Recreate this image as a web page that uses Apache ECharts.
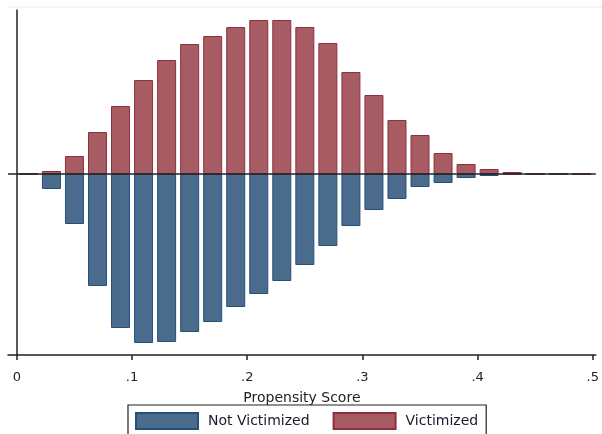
<!DOCTYPE html>
<html>
<head>
<meta charset="utf-8">
<script src="https://cdn.jsdelivr.net/npm/echarts@6/dist/echarts.min.js"></script>
<style>
  html, body { margin: 0; padding: 0; background: #fff; }
  #chart { width: 602px; height: 434px; }
</style>
</head>
<body>
<div id="chart"></div>
<script>
// bin centres of the propensity score histogram (width .02)
var binCenters = [0.01, 0.03, 0.05, 0.07, 0.09, 0.11, 0.13, 0.15, 0.17, 0.19,
	0.21, 0.23, 0.25, 0.27, 0.29, 0.31, 0.33, 0.35, 0.37, 0.39,
	0.41, 0.43, 0.45, 0.47, 0.49];
// heights, drawn above the zero line
var victimized = [0.5, 3, 18, 42, 68, 94, 114, 130, 138, 147,
	154, 154, 147, 131, 102, 79, 54, 39, 21, 10,
	5, 2, 0.5, 0.5, 0];
// heights, drawn below the zero line
var notVictimized = [0, 15, 50, 112, 154, 169, 168, 158, 148, 133,
	120, 107, 91, 72, 52, 36, 25, 13, 9, 4,
	2, 0, 0, 0, 0.5];
var tickValues = [0, 0.1, 0.2, 0.3, 0.4, 0.5];
var tickLabels = ["0", ".1", ".2", ".3", ".4", ".5"];

var blueFill = "#4a6b8c", blueLine = "#24507a";
var redFill = "#a75b63", redLine = "#902f3c";

var upData = [], downData = [];
for (var i = 0; i < binCenters.length; i++) {
	upData.push([binCenters[i], victimized[i]]);
	downData.push([binCenters[i], -notVictimized[i]]);
}

var chart = echarts.init(document.getElementById("chart"));
chart.setOption({
	animation: false,
	grid: { left: 8, right: 0, top: 10, bottom: 79 },
	legend: {
		data: ["Not Victimized", "Victimized"],
		left: 128,
		top: 405,
		padding: [7, 8, 30, 7],
		borderColor: "#222",
		borderWidth: 1.2,
		borderRadius: 0,
		itemWidth: 62,
		itemHeight: 16,
		itemGap: 23,
		icon: "rect",
		textStyle: { fontFamily: "DejaVu Sans", fontSize: 14, color: "#1a1a2a", padding: [0, 0, 0, 5] }
	},
	xAxis: {
		type: "value",
		min: -0.0077,
		max: 0.5026,
		name: "Propensity Score",
		nameLocation: "middle",
		nameGap: 36,
		nameTextStyle: { fontFamily: "DejaVu Sans", fontSize: 14, color: "#222" },
		splitLine: { show: false },
		axisLine: { onZero: false, lineStyle: { color: "#222", width: 1.5 } },
		axisTick: { customValues: tickValues, length: 5, lineStyle: { color: "#222", width: 1.5 } },
		axisLabel: {
			customValues: tickValues,
			margin: 16,
			fontFamily: "DejaVu Sans",
			fontSize: 13,
			color: "#222",
			formatter: function (v) {
				var k = Math.round(v * 10);
				return tickLabels[k];
			}
		}
	},
	yAxis: {
		type: "value",
		min: -181,
		max: 164,
		axisLine: { show: true, lineStyle: { color: "#222", width: 1.5 } },
		axisTick: { show: false },
		axisLabel: { show: false },
		splitLine: { show: false }
	},
	series: [
		{
			name: "Not Victimized",
			type: "bar",
			data: downData,
			barWidth: 19,
			barGap: "-100%",
			itemStyle: { color: blueFill, borderColor: blueLine, borderWidth: 1 }
		},
		{
			name: "Victimized",
			type: "bar",
			data: upData,
			barWidth: 19,
			barGap: "-100%",
			itemStyle: { color: redFill, borderColor: redLine, borderWidth: 1 },
			markLine: {
				silent: true,
				symbol: "none",
				label: { show: false },
				lineStyle: { color: "#222", width: 1.5, type: "solid" },
				data: [{ yAxis: 0 }]
			}
		}
	],
	graphic: [
		{
			type: "line",
			shape: { x1: 8, y1: 7, x2: 602, y2: 7 },
			style: { stroke: "#e4edf1", lineWidth: 1 }
		}
	]
});
</script>
</body>
</html>
